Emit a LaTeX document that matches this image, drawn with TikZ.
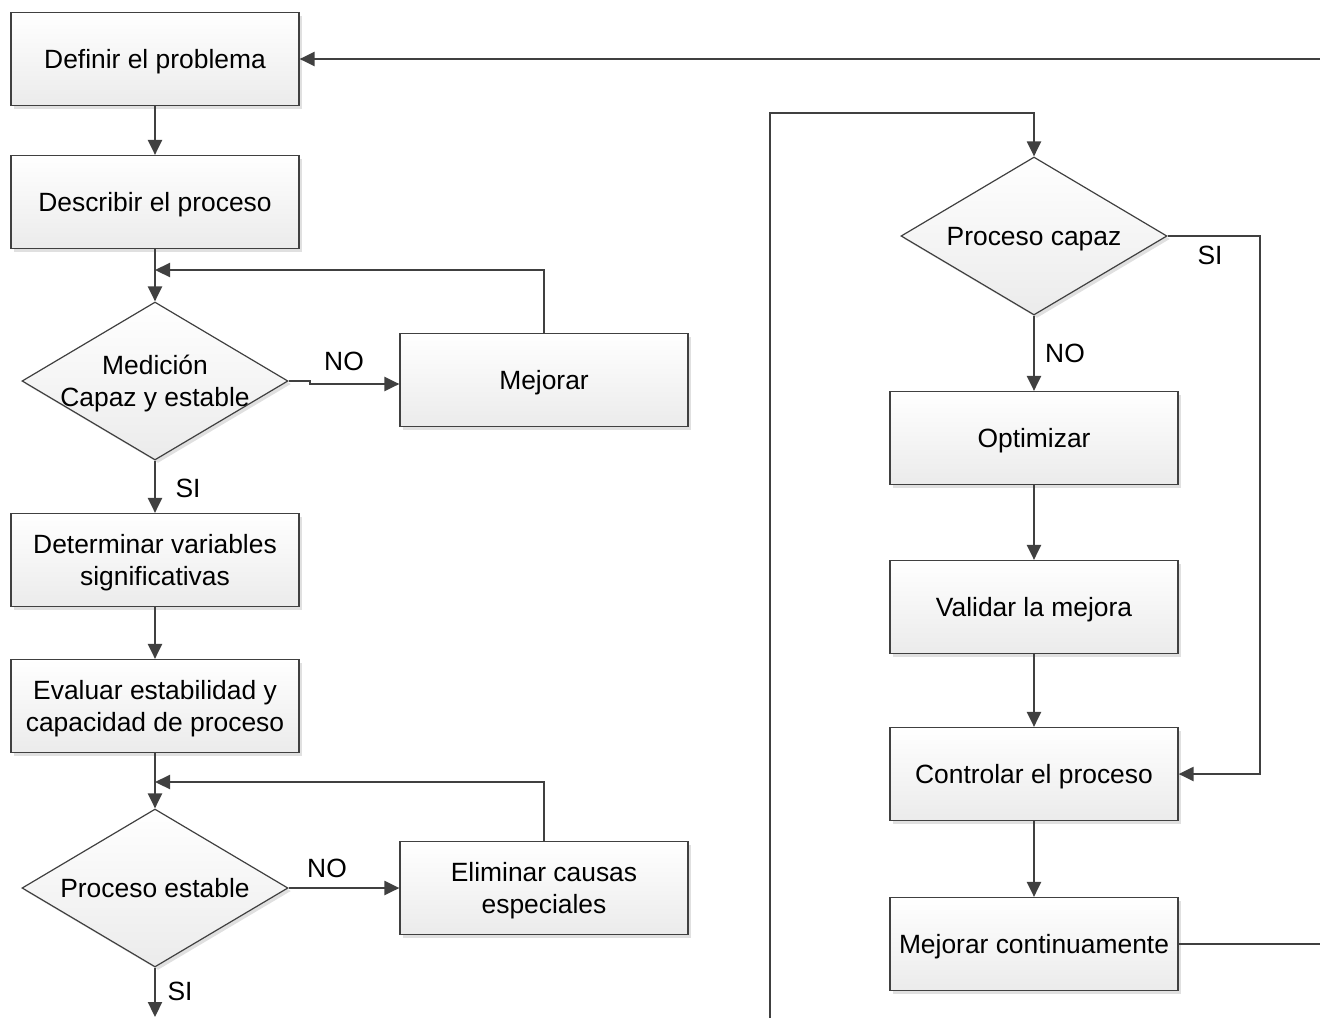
\documentclass[tikz,border=0pt]{standalone}
\usepackage{fontspec}
\setmainfont{Liberation Sans}
\usetikzlibrary{shapes.geometric,arrows.meta,shadows}
\definecolor{linec}{HTML}{404040}
\definecolor{boxbot}{HTML}{EBEBEB}
\tikzset{
  base/.style={draw=linec, line width=1.2pt, top color=white, bottom color=boxbot,
    drop shadow={shadow xshift=3pt, shadow yshift=-3pt, fill=black, opacity=0.12}},
  procbox/.style={base, rectangle, minimum width=288pt, minimum height=93pt,
    inner sep=0pt, align=center, text depth=0pt},
  decision/.style={base, diamond, minimum width=266pt, minimum height=158pt,
    inner sep=0pt},
  dtext/.style={align=center, text depth=0pt},
  conn/.style={draw=linec, line width=2.2pt},
  arr/.style={conn, -{Triangle[length=15pt,width=14pt]}},
  lbl/.style={inner sep=0pt}
}
\begin{document}
\begin{tikzpicture}[x=1pt, y=-1pt, font=\fontsize{26.4}{31.7}\selectfont]
\useasboundingbox (0,0) rectangle (1320,1018);

% left column
\node[procbox] (def) at (155,59) {Definir el problema};
\node[procbox] (desc) at (155,202) {Describir el proceso};
\node[decision, label={[dtext]center:Medición\\Capaz y estable}] (med) at (155,381) {};
\node[procbox] (mej) at (544,380) {Mejorar};
\node[procbox] (det) at (155,560) {Determinar variables\\significativas};
\node[procbox] (eval) at (155,706) {Evaluar estabilidad y\\capacidad de proceso};
\node[decision, label={[dtext]center:Proceso estable}] (est) at (155,888) {};
\node[procbox] (elim) at (544,888) {Eliminar causas\\especiales};

% right column
\node[decision, label={[dtext]center:Proceso capaz}] (cap) at (1034,236) {};
\node[procbox] (opt) at (1034,438) {Optimizar};
\node[procbox] (val) at (1034,607) {Validar la mejora};
\node[procbox] (ctrl) at (1034,774) {Controlar el proceso};
\node[procbox] (mc) at (1034,944) {Mejorar continuamente};

% free ends and bends
\coordinate (inR) at (1320,59);
\coordinate (j1) at (155,270);
\coordinate (j2) at (155,782);
\coordinate (outL) at (155,1017);
\coordinate (r0) at (770,1018);
\coordinate (r1) at (770,113);
\coordinate (s1) at (1260,236);
\coordinate (outR) at (1320,944);

% connectors, left column
\draw[arr] (inR) -- (def.east);
\draw[arr] (def.south) -- (desc.north);
\draw[arr] (desc.south) -- (med.north);
\draw[arr] (mej.north) |- (j1);
\draw[arr] (med.east) -- ++(21,0) -- ++(0,3) coordinate (jog) -- (jog -| mej.west);
\draw[arr] (med.south) -- (det.north);
\draw[arr] (det.south) -- (eval.north);
\draw[arr] (eval.south) -- (est.north);
\draw[arr] (elim.north) |- (j2);
\draw[arr] (est.east) -- (elim.west);
\draw[arr] (est.south) -- (outL);

% connectors, right column
\draw[arr] (r0) -- (r1) -| (cap.north);
\draw[arr] (cap.south) -- (opt.north);
\draw[arr] (opt.south) -- (val.north);
\draw[arr] (val.south) -- (ctrl.north);
\draw[arr] (ctrl.south) -- (mc.north);
\draw[arr] (cap.east) -- (s1) |- (ctrl.east);
\draw[conn] (mc.east) -- (outR);

% branch labels
\node[lbl] (noA) at (344,361) {NO};
\node[lbl] (siA) at (188,488) {SI};
\node[lbl] (noB) at (327,868) {NO};
\node[lbl] (siB) at (180,991) {SI};
\node[lbl] (siC) at (1210,255) {SI};
\node[lbl] (noC) at (1065,353) {NO};
\end{tikzpicture}
\end{document}
